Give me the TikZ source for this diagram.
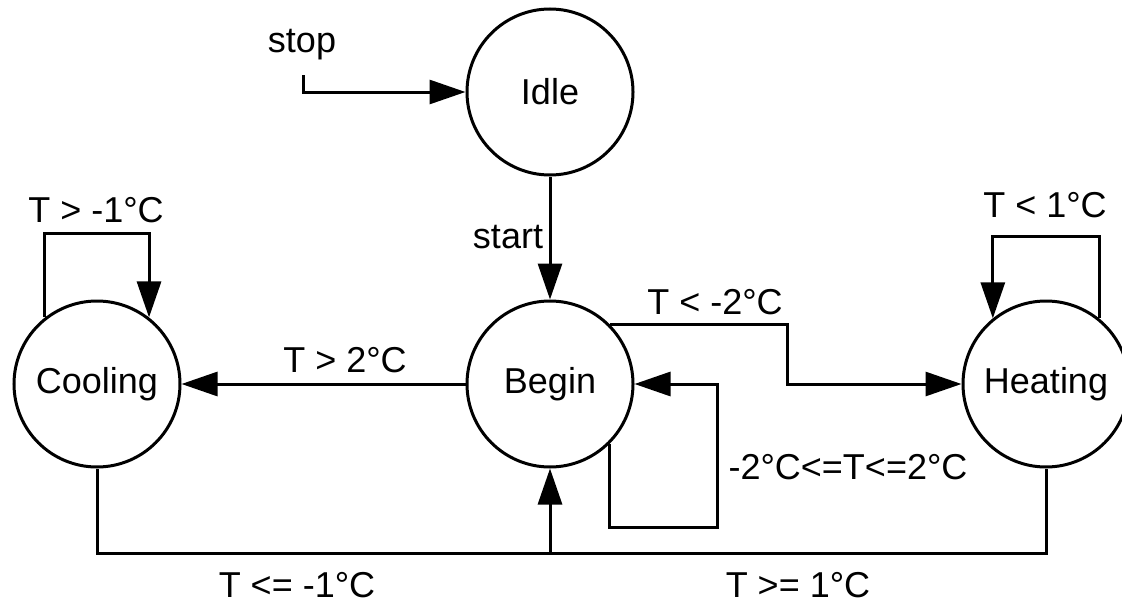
\documentclass[tikz,border=0pt]{standalone}
\usepackage{fontspec}
\setmainfont{Liberation Sans}
\usetikzlibrary{arrows.meta}
\begin{document}
\begin{tikzpicture}[x=1pt,y=-1pt,
  state/.style={circle,draw,line width=3pt,minimum size=166pt,inner sep=0pt,font=\fontsize{36}{40}\selectfont},
  lbl/.style={font=\fontsize{36}{40}\selectfont,inner sep=0pt},
  conn/.style={line width=3pt},
  arr/.style={conn,-{Triangle[length=36pt,width=24pt]}}]
\useasboundingbox (0,0) rectangle (1122,605);
\node[state] (idle) at (550,92) {Idle};
\node[state] (begin) at (550,384) {Begin};
\node[state] (cooling) at (97,384) {Cooling};
\node[state] (heating) at (1046,384) {Heating};
% labels
\node[lbl] (lstop) at (302,45) {stop};
\node[lbl] (lstart) at (508,237) {start};
\node[lbl] (lneg2) at (715,302) {T < -2°C};
\node[lbl] (lgt2) at (345,360) {T > 2°C};
\node[lbl] (lmid) at (848,467) {-2°C<=T<=2°C};
\node[lbl] (lcool) at (96,210) {T > -1°C};
\node[lbl] (lheat) at (1045,205) {T < 1°C};
\node[lbl] (lle) at (297,585) {T <= -1°C};
\node[lbl] (lge) at (798,585) {T >= 1°C};
% coordinates
\coordinate (stopc) at (303,75);
\coordinate (k1) at (787,384);
\coordinate (bl) at (717,527);
\coordinate (cl) at (97,233);
\coordinate (hl) at (1046,236);
\coordinate (bm) at (550,553);
% connectors
\draw[arr] (stopc) |- (idle);
\draw[arr] (idle) -- (begin);
\draw[arr] (begin.45) -- (begin.45 -| k1) |- (heating);
\draw[arr] (begin.-45) |- (bl) |- (begin);
\draw[arr] (begin) -- (cooling);
\draw[arr] (cooling.128) |- (cl) -| (cooling.52);
\draw[arr] (heating.51) |- (hl) -| (heating.129);
\draw[arr] (cooling.south) |- (bm) -- (begin.south);
\draw[conn] (heating.south) |- (bm);
\end{tikzpicture}
\end{document}
